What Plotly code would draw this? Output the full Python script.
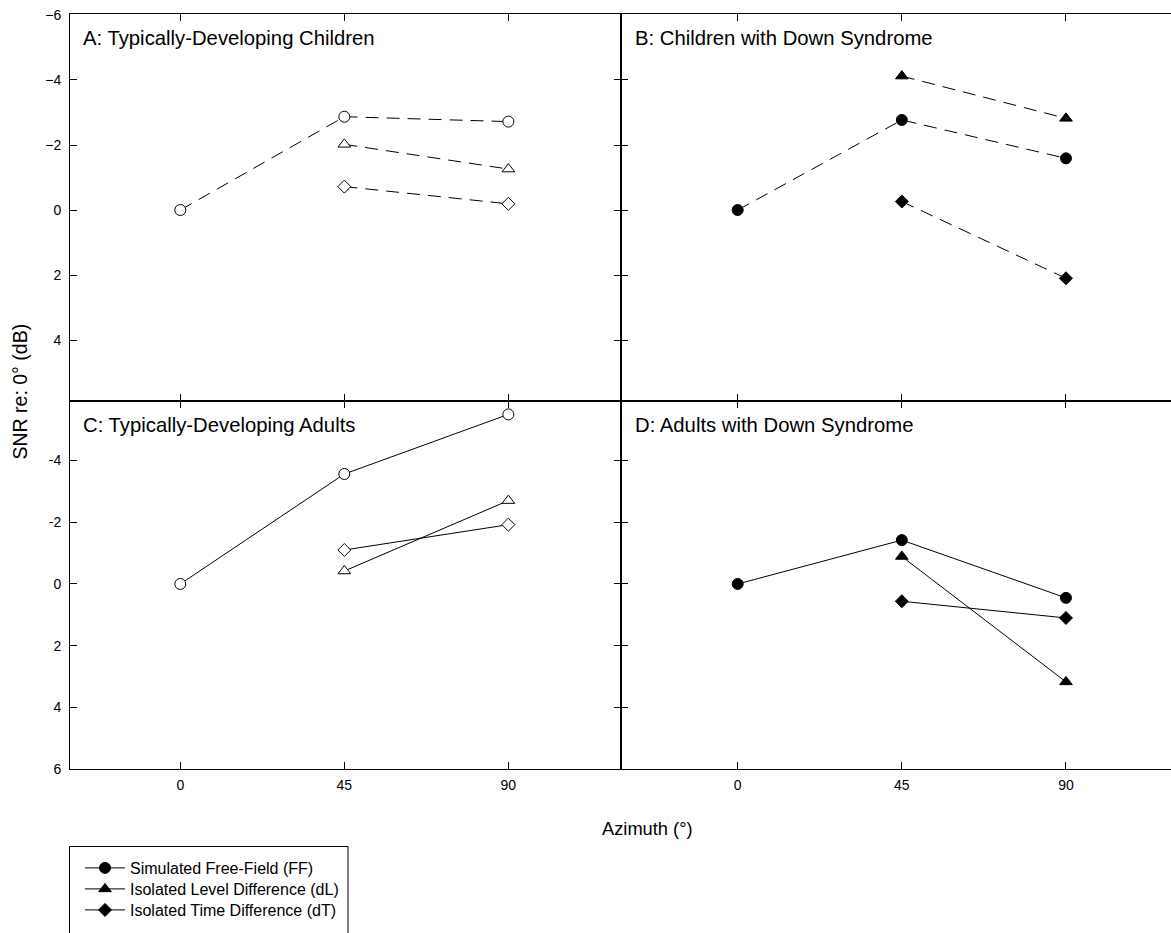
import plotly.graph_objects as go

W, H = 1171, 933

# ---------------- data ----------------
azimuth_all = [0, 45, 90]
azimuth_sep = [45, 90]
series_names = ["Simulated Free-Field (FF)", "Isolated Level Difference (dL)", "Isolated Time Difference (dT)"]
panel_titles = ["A: Typically-Developing Children", "B: Children with Down Syndrome",
                "C: Typically-Developing Adults", "D: Adults with Down Syndrome"]

A_FF = [0.0, -2.87, -2.72]
A_dL = [-2.02, -1.26]
A_dT = [-0.72, -0.19]

B_FF = [0.0, -2.77, -1.59]
B_dL = [-4.12, -2.82]
B_dT = [-0.26, 2.10]

C_FF = [0.0, -3.56, -5.49]
C_dL = [-0.42, -2.70]
C_dT = [-1.10, -1.92]

D_FF = [0.0, -1.42, 0.45]
D_dL = [-0.89, 3.17]
D_dT = [0.56, 1.10]

x_tick_vals = [0, 45, 90]
x_tick_text = ["0", "45", "90"]
yA_tick_vals = [-6, -4, -2, 0, 2, 4]
yC_tick_vals = [-6, -4, -2, 0, 2, 4, 6]
yC_tick_text = ["", "-4", "-2", "0", "2", "4", "6"]

FONT = "Liberation Sans, Arial, sans-serif"


def px_x(p):
    return p / W


def px_y(p):
    return 1 - p / H


fig = go.Figure()

panels = [
    ("x", "y", A_FF, A_dL, A_dT, "open", "longdash"),
    ("x2", "y2", B_FF, B_dL, B_dT, "filled", "longdash"),
    ("x3", "y3", C_FF, C_dL, C_dT, "open", "solid"),
    ("x4", "y4", D_FF, D_dL, D_dT, "filled", "solid"),
]
legend_ids = ["legend", "legend2", "legend3"]

for idx, (xa, ya, ff, dl, dt, fill, dash) in enumerate(panels):
    fillcol = "white" if fill == "open" else "black"
    dash_style = "13px,8px" if dash == "longdash" else "solid"
    show = (idx == 3)
    for k, (name, xs, ys, sym, size) in enumerate([
        (series_names[0], azimuth_all, ff, "circle", 11),
        (series_names[1], azimuth_sep, dl, "triangle-up", 11),
        (series_names[2], azimuth_sep, dt, "diamond", 10),
    ]):
        fig.add_trace(go.Scatter(
            x=xs, y=ys, xaxis=xa, yaxis=ya, mode="lines+markers",
            name=name, showlegend=show, legend=legend_ids[k],
            line=dict(color="black", width=1, dash=dash_style),
            marker=dict(symbol=sym, size=size, color=fillcol,
                        line=dict(color="black", width=1)),
        ))

xL0, xL1, xR1 = px_x(70), px_x(621), 1.0
yT0, yT1 = px_y(400.5), px_y(14)
yB0, yB1 = px_y(769.3), px_y(400.5)

common = dict(showline=True, linecolor="black", linewidth=1, ticks="inside",
              ticklen=7, tickcolor="black", tickwidth=1, showgrid=False,
              zeroline=False, tickfont=dict(family=FONT, size=14, color="black"))
xstand = dict(ticklabelstandoff=3)
ystand = dict(ticklabelstandoff=5)

leg_common = dict(xanchor="left", yanchor="middle", bgcolor="rgba(0,0,0,0)",
                  borderwidth=0, font=dict(family=FONT, size=16, color="black"),
                  itemwidth=40, x=px_x(80))

fig.update_layout(
    width=W, height=H, autosize=False,
    margin=dict(l=0, r=0, t=0, b=0, pad=0, autoexpand=False),
    paper_bgcolor="white", plot_bgcolor="white",
    font=dict(family=FONT, color="black"),
    xaxis=dict(domain=[xL0, xL1], anchor="y", range=[-30.26, 120.9], tickvals=x_tick_vals,
               showticklabels=False, mirror="ticks", **common, **xstand),
    yaxis=dict(domain=[yT0, yT1], anchor="x", range=[5.86, -6.03], tickvals=yA_tick_vals,
               mirror="ticks", **common, **ystand),
    xaxis2=dict(domain=[xL1, xR1], anchor="y2", range=[-32.0, 118.8], tickvals=x_tick_vals,
                showticklabels=False, mirror="ticks", **common, **xstand),
    yaxis2=dict(domain=[yT0, yT1], anchor="x2", range=[5.86, -6.03], tickvals=yA_tick_vals,
                showticklabels=False, mirror=False, **common, **ystand),
    xaxis3=dict(domain=[xL0, xL1], anchor="y3", range=[-30.26, 120.9], tickvals=x_tick_vals,
                ticktext=x_tick_text, mirror="ticks", **common, **xstand),
    yaxis3=dict(domain=[yB0, yB1], anchor="x3", range=[6, -5.94], tickvals=yC_tick_vals,
                ticktext=yC_tick_text, mirror="ticks", **common, **ystand),
    xaxis4=dict(domain=[xL1, xR1], anchor="y4", range=[-32.0, 118.8], tickvals=x_tick_vals,
                ticktext=x_tick_text, mirror="ticks", **common, **xstand),
    yaxis4=dict(domain=[yB0, yB1], anchor="x4", range=[6, -5.94], tickvals=yC_tick_vals,
                showticklabels=False, mirror=False, **common, **ystand),
    legend=dict(y=px_y(868), **leg_common),
    legend2=dict(y=px_y(889), **leg_common),
    legend3=dict(y=px_y(910), **leg_common),
)

# legend frame (extends past the bottom edge as in the reference)
fig.add_shape(type="rect", xref="paper", yref="paper",
              x0=px_x(69.5), x1=px_x(348), y0=px_y(950), y1=px_y(846.5),
              line=dict(color="black", width=1), fillcolor="rgba(0,0,0,0)", layer="below")

# panel titles
title_pos = [(81, 38), (633, 38), (81, 425), (633, 425)]
for t, (px, py) in zip(panel_titles, title_pos):
    fig.add_annotation(text=t, x=px_x(px), y=px_y(py), xref="paper", yref="paper",
                       xanchor="left", yanchor="middle", showarrow=False,
                       font=dict(family=FONT, size=20.3, color="black"))

# axis titles
fig.add_annotation(text="Azimuth (°)", x=px_x(647), y=px_y(828), xref="paper", yref="paper",
                   xanchor="center", yanchor="middle", showarrow=False,
                   font=dict(family=FONT, size=18.3, color="black"))
fig.add_annotation(text="SNR re: 0° (dB)", x=px_x(19.5), y=px_y(392), xref="paper", yref="paper",
                   xanchor="center", yanchor="middle", showarrow=False, textangle=-90,
                   font=dict(family=FONT, size=19.5, color="black"))

fig.write_html(
    "out.html",
    config={"displayModeBar": False, "responsive": False},
    post_script="document.body.style.margin='0';document.body.style.overflow='hidden';",
)
